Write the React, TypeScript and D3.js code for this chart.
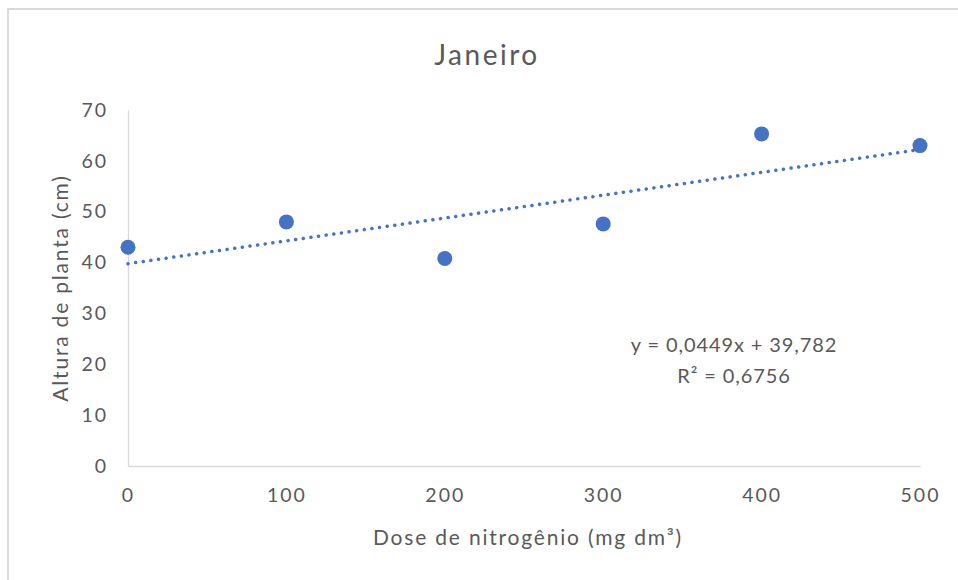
import React, { useEffect, useRef } from "react";
import * as d3 from "d3";

// Dose de nitrogênio (mg dm³) vs Altura de planta (cm)
const doses = [0, 100, 200, 300, 400, 500];
const alturas = [43.0, 48.0, 40.8, 47.6, 65.3, 63.0];
const xTicks = [0, 100, 200, 300, 400, 500];
const yTicks = [0, 10, 20, 30, 40, 50, 60, 70];
const trendSlope = 0.0449;
const trendIntercept = 39.782;
const equationLines = ["y = 0,0449x + 39,782", "R² = 0,6756"];

const App = () => {
  const ref = useRef<SVGSVGElement>(null);

  useEffect(() => {
    const width = 958;
    const height = 580;
    const margin = { top: 110, right: 38, bottom: 114, left: 128 };
    const font = "Lato, 'Open Sans', sans-serif";
    const textColor = "#595959";
    const axisColor = "#d9d9d9";
    const blue = "#4472c4";

    const svg = d3.select(ref.current);
    svg.selectAll("*").remove();
    svg.attr("width", width).attr("height", height);

    svg.append("rect").attr("width", width).attr("height", height).attr("fill", "#fff");

    // chart frame (only top and left edges visible)
    svg.append("line")
      .attr("x1", 7).attr("x2", width).attr("y1", 9).attr("y2", 9)
      .attr("stroke", axisColor).attr("stroke-width", 2);
    svg.append("line")
      .attr("x1", 8).attr("x2", 8).attr("y1", 8).attr("y2", height)
      .attr("stroke", axisColor).attr("stroke-width", 2);

    const x = d3.scaleLinear().domain([0, 500]).range([margin.left, width - margin.right]);
    const y = d3.scaleLinear().domain([0, 70]).range([height - margin.bottom, margin.top]);

    // axes
    const yAxis = svg.append("g")
      .attr("transform", `translate(${margin.left},0)`)
      .call(d3.axisLeft(y).tickValues(yTicks).tickSize(0).tickPadding(20));
    const xAxis = svg.append("g")
      .attr("transform", `translate(0,${height - margin.bottom})`)
      .call(d3.axisBottom(x).tickValues(xTicks).tickSize(0).tickPadding(22));

    [yAxis, xAxis].forEach((g) => {
      g.select(".domain").attr("stroke", axisColor).attr("stroke-width", 1.3);
      g.selectAll("text")
        .attr("fill", textColor)
        .style("font-family", font)
        .style("font-size", "19.5px")
        .style("letter-spacing", "2px");
    });

    // trendline
    svg.append("line")
      .attr("x1", x(0)).attr("y1", y(trendIntercept))
      .attr("x2", x(500)).attr("y2", y(trendIntercept + trendSlope * 500))
      .attr("stroke", blue)
      .attr("stroke-width", 3.5)
      .attr("stroke-linecap", "round")
      .attr("stroke-dasharray", "0.1 7.6");

    // points
    svg.selectAll(".pt")
      .data(doses.map((d, i) => ({ d, a: alturas[i] })))
      .enter()
      .append("circle")
      .attr("class", "pt")
      .attr("cx", (p) => x(p.d))
      .attr("cy", (p) => y(p.a))
      .attr("r", 7.5)
      .attr("fill", blue);

    // title
    svg.append("text")
      .attr("x", 487).attr("y", 65)
      .attr("text-anchor", "middle")
      .attr("fill", textColor)
      .style("font-family", font)
      .style("font-size", "28px")
      .style("letter-spacing", "2.5px")
      .text("Janeiro");

    // axis titles
    svg.append("text")
      .attr("x", 528).attr("y", 545)
      .attr("text-anchor", "middle")
      .attr("fill", textColor)
      .style("font-family", font)
      .style("font-size", "21px")
      .style("letter-spacing", "1.8px")
      .text("Dose de nitrogênio (mg dm³)");

    svg.append("text")
      .attr("transform", `translate(68,288) rotate(-90)`)
      .attr("text-anchor", "middle")
      .attr("fill", textColor)
      .style("font-family", font)
      .style("font-size", "21px")
      .style("letter-spacing", "1.8px")
      .text("Altura de planta (cm)");

    // equation label
    equationLines.forEach((t, i) => {
      svg.append("text")
        .attr("x", 734).attr("y", 352 + i * 31)
        .attr("text-anchor", "middle")
        .attr("fill", textColor)
        .style("font-family", font)
        .style("font-size", "20px")
        .style("letter-spacing", "0.9px")
        .text(t);
    });
  }, []);

  return <svg ref={ref} style={{ position: "absolute", left: 0, top: 0 }}></svg>;
};

export default App;
